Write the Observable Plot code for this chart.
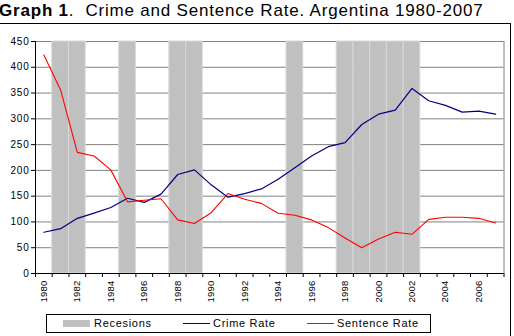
<!DOCTYPE html>
<html>
<head>
<meta charset="utf-8">
<script src="https://cdn.jsdelivr.net/npm/d3@7"></script>
<script src="https://cdn.jsdelivr.net/npm/@observablehq/plot@0.6"></script>
<style>
  body { margin: 0; background: #fff; }
  #wrap { position: relative; width: 514px; height: 336px; overflow: hidden; background: #fff;
          font-family: "Liberation Sans", Arial, sans-serif; color: #000; }
  #frame { position: absolute; left: -2px; top: 23px; width: 513px; height: 330px;
           box-sizing: border-box; border: 1px solid #000; }
  #title { position: absolute; left: -1px; top: 1px; font-size: 17px; letter-spacing: 0.8px; white-space: nowrap; }
  #chart { position: absolute; left: 0; top: 23px; }
  #legend { position: absolute; left: 46px; top: 314px; width: 385px; height: 19px;
            box-sizing: border-box; border: 1px solid #000; background: #fff;
            font-size: 11px; letter-spacing: 0.7px; }
  #legend .sw { position: absolute; }
  #legend .lb { position: absolute; top: 2px; white-space: nowrap; }
  #chart .xlab text { letter-spacing: 0.2px; }
</style>
</head>
<body>
<div id="wrap">
  <div id="frame"></div>
  <div id="title"><b>Graph 1</b>.&nbsp; Crime and Sentence Rate. Argentina 1980-2007</div>
  <div id="chart"></div>
  <div id="legend">
    <div class="sw" style="left:16px;top:5px;width:27px;height:7px;background:#c0c0c0"></div>
    <div class="lb" style="left:47px">Recesions</div>
    <div class="sw" style="left:136px;top:8px;width:27px;height:1px;background:#000080"></div>
    <div class="lb" style="left:166px">Crime Rate</div>
    <div class="sw" style="left:260px;top:8px;width:27px;height:1px;background:#ff0000"></div>
    <div class="lb" style="left:290px">Sentence Rate</div>
  </div>
</div>
<script>
// Annual series, 1980-2007
const years = [1980, 1981, 1982, 1983, 1984, 1985, 1986, 1987, 1988, 1989,
               1990, 1991, 1992, 1993, 1994, 1995, 1996, 1997, 1998, 1999,
               2000, 2001, 2002, 2003, 2004, 2005, 2006, 2007];
const crimeRate = [80, 87, 107, 117, 128, 146, 138, 154, 192, 201,
                   172, 148, 155, 164, 183, 205, 228, 246, 254, 289,
                   309, 317, 359, 335, 326, 313, 315, 309];
const sentenceRate = [424, 356, 235, 228, 201, 139, 142, 145, 104, 97,
                      118, 155, 144, 136, 117, 113, 104, 89, 69, 50,
                      67, 80, 76, 105, 109, 109, 107, 98];
// Recession years (shaded columns)
const recessions = [1981, 1982, 1985, 1988, 1989, 1995, 1998, 1999, 2000, 2001, 2002];
// Axis ticks
const yTicks = [0, 50, 100, 150, 200, 250, 300, 350, 400, 450];
const xLabelYears = [1980, 1982, 1984, 1986, 1988, 1990, 1992, 1994, 1996, 1998, 2000, 2002, 2004, 2006];

const crimeData = years.map((year, i) => ({year, value: crimeRate[i]}));
const sentenceData = years.map((year, i) => ({year, value: sentenceRate[i]}));
// Each year occupies one unit-wide slot; tick marks sit on slot edges
const slotEdges = years.map(y => y - 0.5).concat([years[years.length - 1] + 0.5]);
const xMin = years[0] - 0.5, xMax = years[years.length - 1] + 0.5;
const yMax = yTicks[yTicks.length - 1];

const chart = Plot.plot({
  width: 514,
  height: 313,
  marginLeft: 35,
  marginRight: 10.5,
  marginTop: 18,
  marginBottom: 63,
  style: {fontFamily: "'Liberation Sans', Arial, sans-serif", fontSize: "10px", color: "#000",
          background: "transparent", letterSpacing: "0.8px"},
  x: {domain: [xMin, xMax], label: null},
  y: {domain: [0, yMax], label: null},
  marks: [
    Plot.ruleY(yTicks.slice(1), {stroke: "#808080", strokeWidth: 1}),
    Plot.ruleX([xMax], {y1: 0, y2: yMax, stroke: "#808080"}),
    Plot.rectY(recessions, {x1: d => d - 0.5, x2: d => d + 0.5, y1: 0, y2: yMax,
                            fill: "#c0c0c0", stroke: "#d8d8d8", strokeWidth: 1}),
    Plot.line(crimeData, {x: "year", y: "value", stroke: "#000080", strokeWidth: 1.2}),
    Plot.line(sentenceData, {x: "year", y: "value", stroke: "#ff0000", strokeWidth: 1.1}),
    Plot.ruleX([xMin], {y1: 0, y2: yMax, stroke: "#000"}),
    Plot.ruleY([0], {stroke: "#000"}),
    Plot.axisY({ticks: yTicks, tickSize: 4, tickPadding: 2, tickFormat: d => String(d),
                stroke: "#000", label: null}),
    Plot.axisX({ticks: slotEdges, tickSize: 4, tickFormat: () => "", stroke: "#000", label: null}),
    Plot.axisX({ticks: xLabelYears, tickSize: 0, tickPadding: 7, tickRotate: -90,
                fontSize: 9.5, className: "xlab",
                tickFormat: d => String(d), label: null})
  ]
});
document.getElementById("chart").appendChild(chart);
</script>
</body>
</html>
